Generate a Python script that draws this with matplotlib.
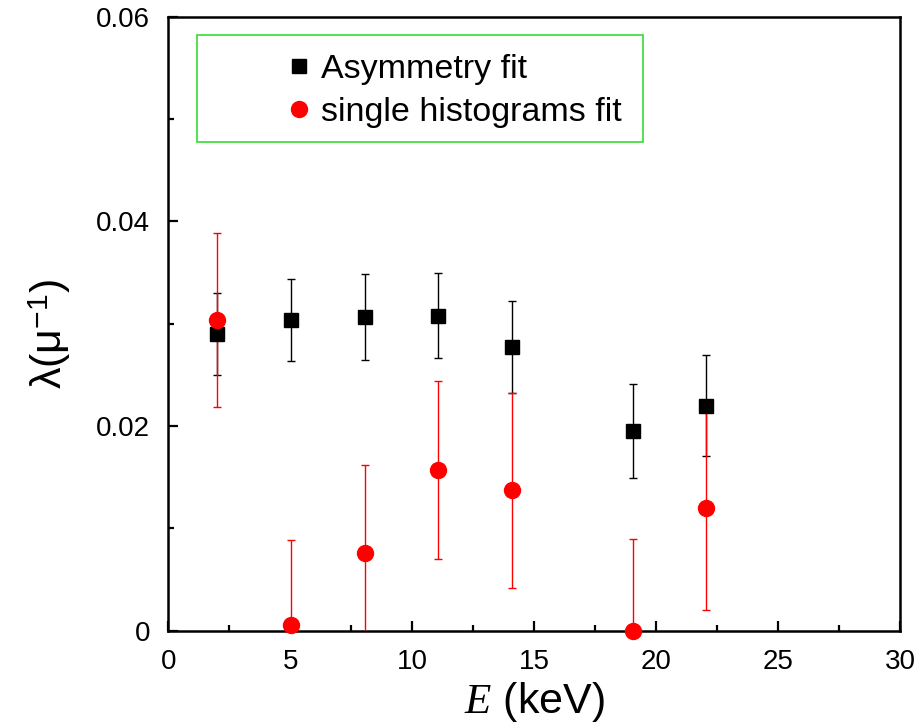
import matplotlib
matplotlib.use('Agg')
import matplotlib.pyplot as plt
from matplotlib.lines import Line2D
from matplotlib.patches import Rectangle
from matplotlib.ticker import MultipleLocator, FixedLocator, FixedFormatter

# implantation energy (keV)
energy = [2.0, 5.05, 8.05, 11.05, 14.1, 19.05, 22.05]
# asymmetry fit
asym_lambda = [0.0290, 0.0304, 0.0307, 0.0308, 0.0277, 0.0195, 0.0220]
asym_err = [0.0040, 0.0040, 0.0042, 0.0042, 0.0045, 0.0046, 0.0049]
# single histograms fit
single_lambda = [0.0304, 0.0006, 0.0076, 0.0157, 0.0137, 0.0000, 0.0120]
single_err = [0.0085, 0.0083, 0.0086, 0.0087, 0.0095, 0.0090, 0.0100]

y_ticks = [0, 0.02, 0.04, 0.06]
y_ticklabels = ['0', '0.02', '0.04', '0.06']

plt.rcParams['font.family'] = ['Liberation Sans', 'DejaVu Sans']
plt.rcParams['mathtext.fontset'] = 'custom'
plt.rcParams['mathtext.rm'] = 'Liberation Sans'
plt.rcParams['mathtext.it'] = 'Liberation Serif:italic'

fig = plt.figure(figsize=(9.22, 7.27), dpi=100)
ax = fig.add_axes([0.1825, 0.1325, 0.7936, 0.8445])

eb1 = ax.errorbar(energy, asym_lambda, yerr=asym_err, fmt='s', color='black',
                  ms=9.6, ecolor='black', elinewidth=1.0, capsize=3, capthick=1.0,
                  zorder=3)
eb2 = ax.errorbar(energy, single_lambda, yerr=single_err, fmt='o', color='red',
                  ms=11.5, ecolor='red', elinewidth=1.0, capsize=3, capthick=1.0,
                  zorder=4)
for eb in (eb1, eb2):
    eb[0].set_clip_on(False)
    eb[0].set_zorder(5)

ax.set_xlim(0, 30)
ax.set_ylim(0, 0.06)
ax.xaxis.set_major_locator(MultipleLocator(5))
ax.xaxis.set_minor_locator(MultipleLocator(2.5))
ax.yaxis.set_major_locator(FixedLocator(y_ticks))
ax.yaxis.set_major_formatter(FixedFormatter(y_ticklabels))
ax.yaxis.set_minor_locator(MultipleLocator(0.01))
ax.tick_params(which='both', direction='in', top=False, right=False,
               labelsize=20, width=1.6, pad=13)
ax.tick_params(which='major', length=7)
ax.tick_params(which='minor', length=4)
for s in ax.spines.values():
    s.set_linewidth(1.8)

ax.set_xlabel(r'$\mathit{E}$ (keV)', fontsize=31, labelpad=4)
ax.set_ylabel(r'$\mathrm{\lambda}(\mathrm{\mu}^{-1})$', fontsize=31)
ax.yaxis.set_label_coords(-0.13, 0.483)

# legend box
ax.add_patch(Rectangle((0.039, 0.796), 0.61, 0.174, transform=ax.transAxes,
                       fill=False, edgecolor='#33dd33', linewidth=1.2, zorder=6))
handles = [Line2D([], [], ls='none', marker='s', color='black', ms=9.6),
           Line2D([], [], ls='none', marker='o', color='red', ms=11.5)]
ax.legend(handles, ['Asymmetry fit', 'single histograms fit'], frameon=False,
          fontsize=24.5, loc='upper left', bbox_to_anchor=(0.141, 0.962),
          handlelength=0.8, handletextpad=0.25, labelspacing=0.35,
          borderaxespad=0)

fig.savefig('out.png', dpi=100)
